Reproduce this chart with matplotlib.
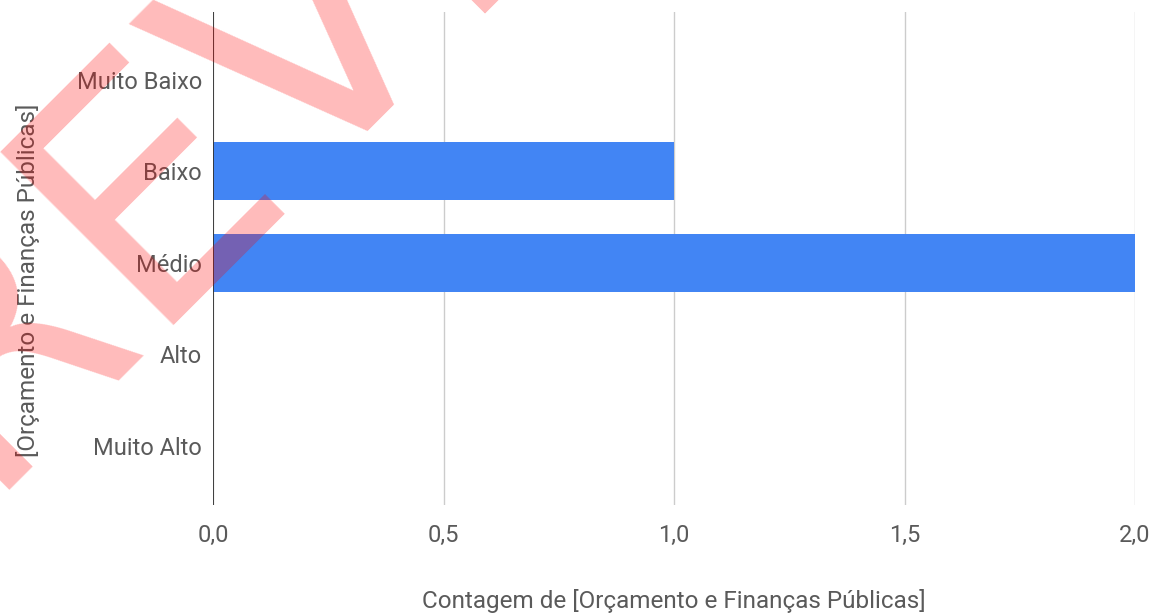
import matplotlib.pyplot as plt
import numpy as np

# data
categories = ["Muito Baixo", "Baixo", "Médio", "Alto", "Muito Alto"]
counts = [0, 1, 2, 0, 0]
xticks = [0.0, 0.5, 1.0, 1.5, 2.0]
xtick_labels = ["0,0", "0,5", "1,0", "1,5", "2,0"]

BLUE = "#4285F4"
TEXT = "#5a5a5a"

plt.rcParams['font.family'] = ['Roboto', 'DejaVu Sans']

fig = plt.figure(figsize=(11.6, 6.13), dpi=100)
ax = fig.add_axes([213/1160, 1-505/613, (1135-213)/1160, (505-12)/613])

y = np.arange(len(categories))
ax.barh(y, counts, height=0.634, color=BLUE, zorder=2)

ax.set_xlim(0, 2)
ax.set_ylim(4.645, -0.743)
ax.set_yticks(y)
ax.set_yticklabels(categories)
ax.set_xticks(xticks)
ax.set_xticklabels(xtick_labels)
ax.tick_params(axis='both', length=0, labelsize=17, labelcolor=TEXT)
ax.tick_params(axis='y', pad=8)
ax.tick_params(axis='x', pad=14)

for s in ax.spines.values():
    s.set_visible(False)
ax.grid(axis='x', color='#cccccc', linewidth=1, zorder=0)
ax.axvline(0, color='#333333', linewidth=1.3, zorder=3)

ax.set_xlabel("Contagem de [Orçamento e Finanças Públicas]", fontsize=17.5, color=TEXT, labelpad=30)
ax.set_ylabel("[Orçamento e Finanças Públicas]", fontsize=17.5, color=TEXT)
ax.yaxis.set_label_coords(-0.188, 0.455)

# watermark overlay
fig.text(-0.143, -0.03, "PREVIEW", fontsize=241, color='red', alpha=0.27,
         rotation=45, rotation_mode='anchor', ha='left', va='baseline',
         family='DejaVu Sans', zorder=10)

fig.savefig("out.png", dpi=100)
